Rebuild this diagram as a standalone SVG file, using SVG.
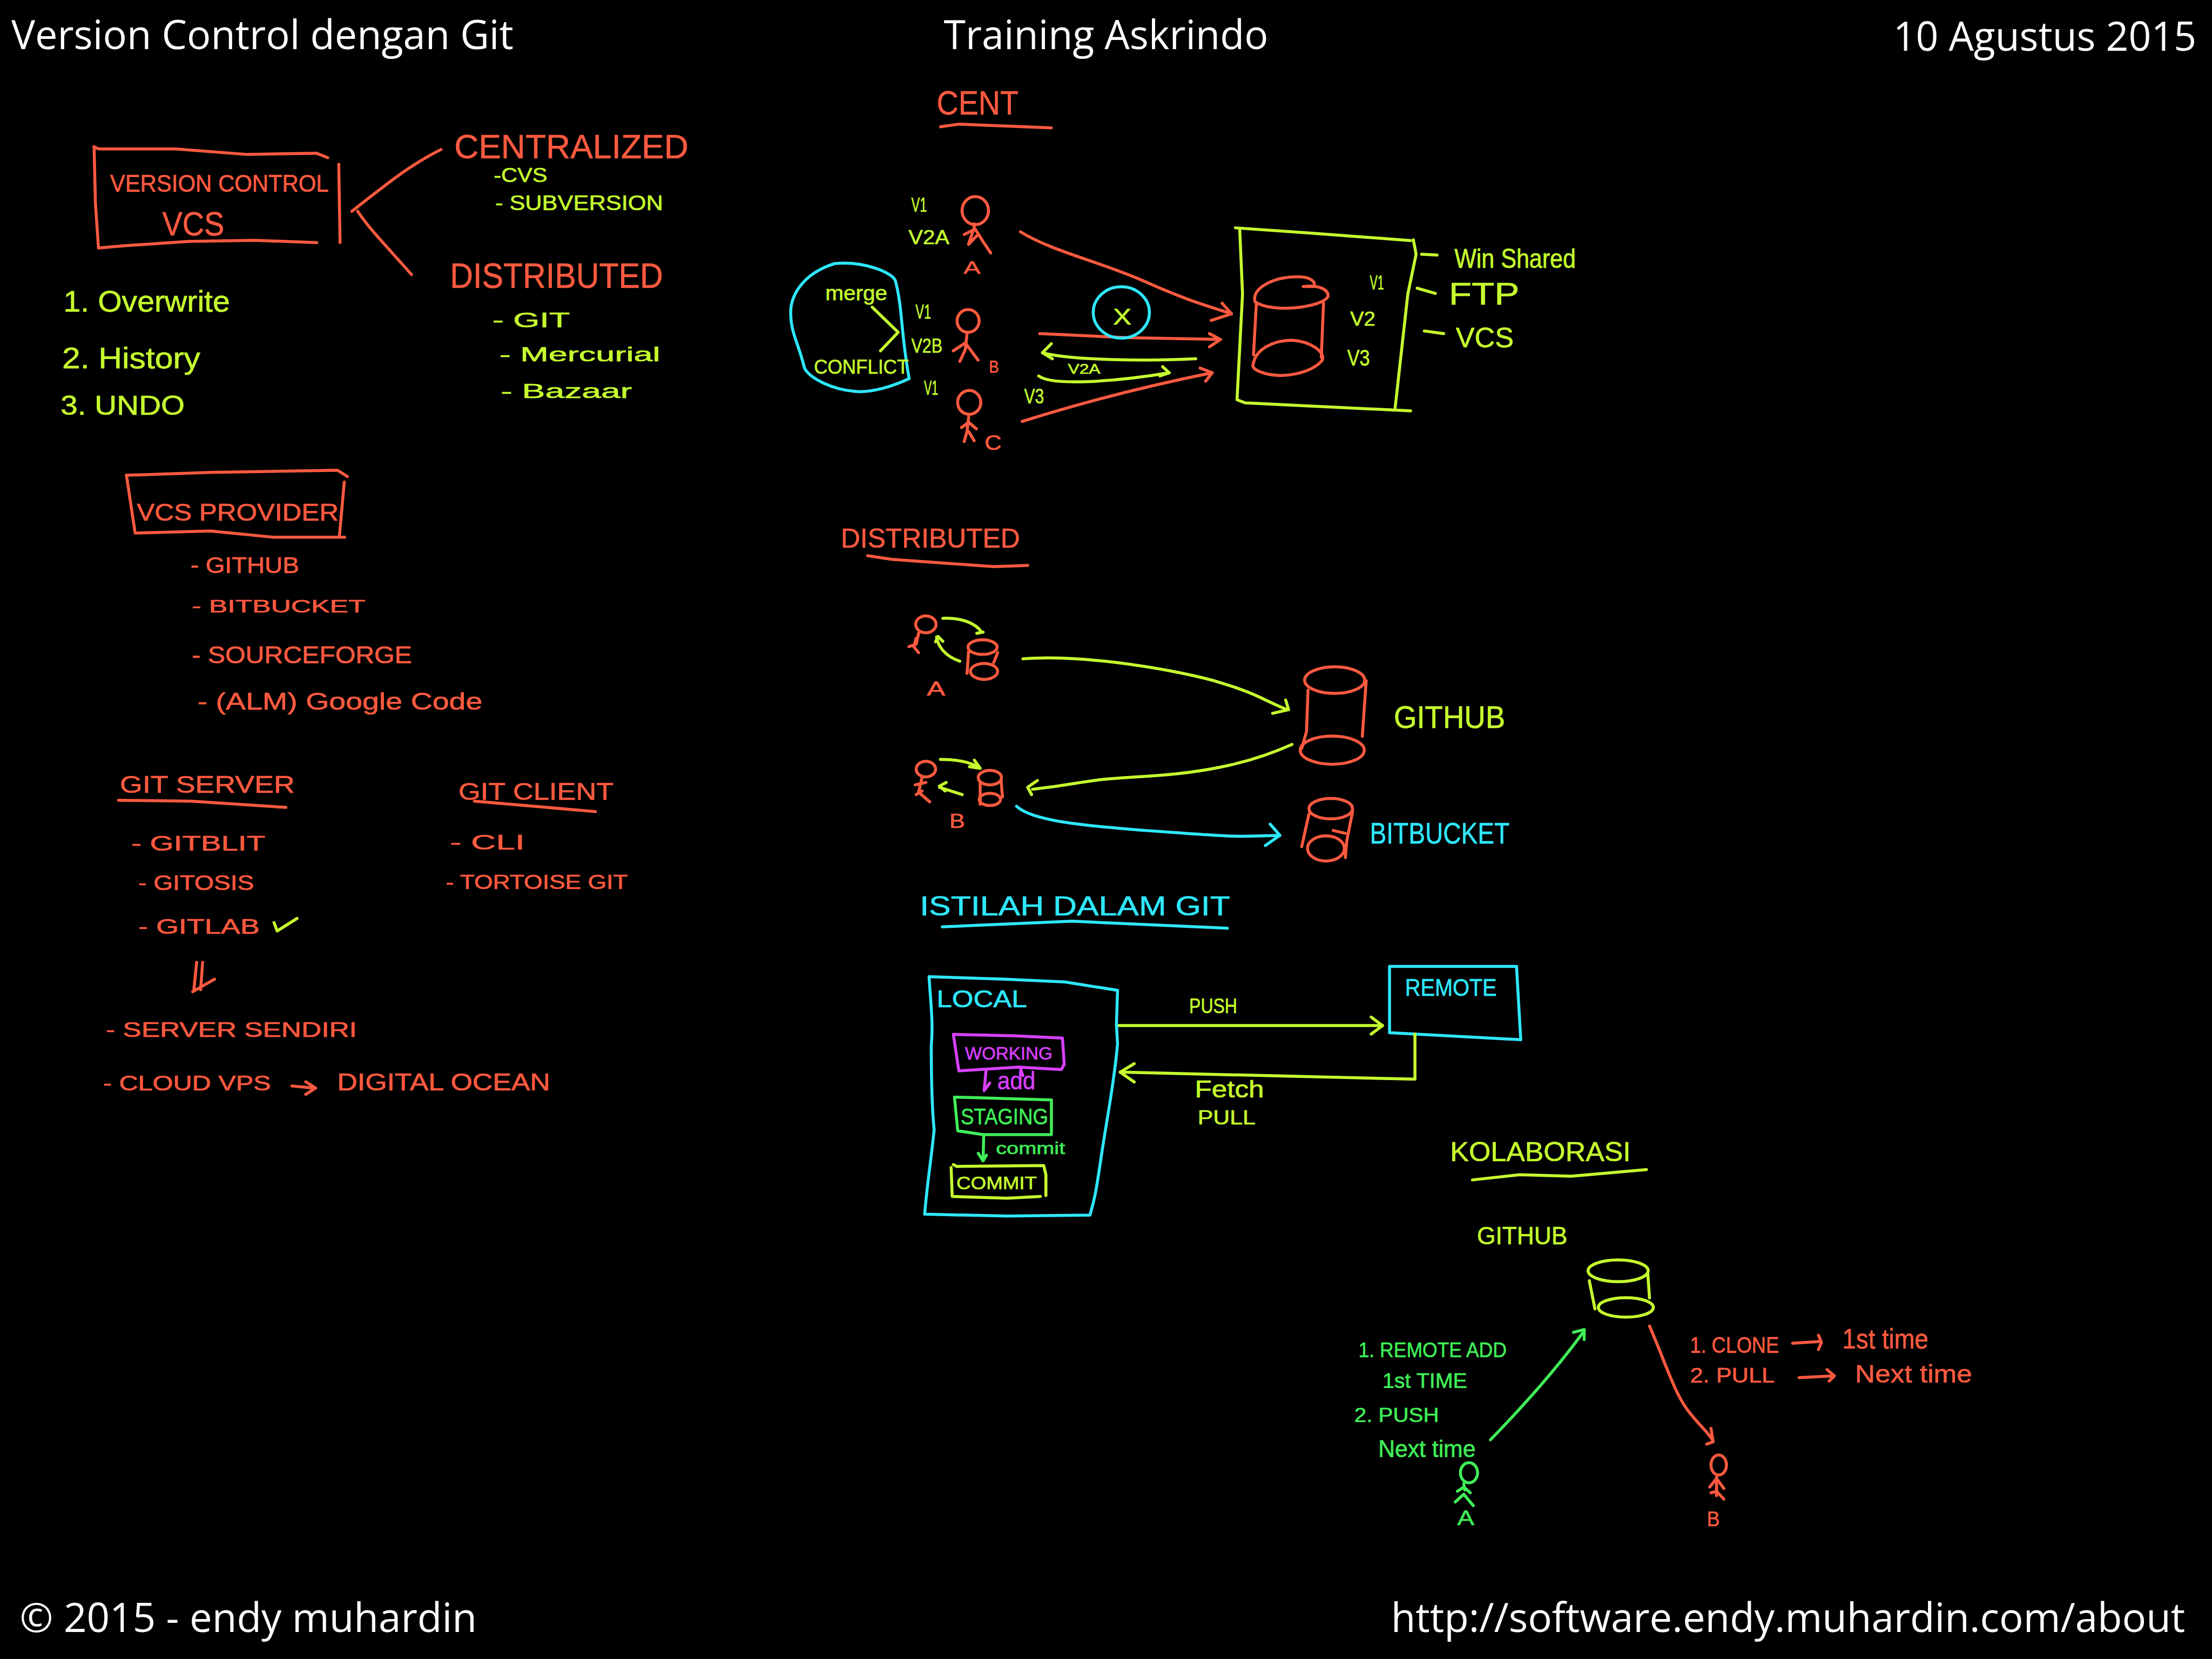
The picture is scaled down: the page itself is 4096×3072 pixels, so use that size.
<svg xmlns="http://www.w3.org/2000/svg" width="4096" height="3072" viewBox="0 0 4096 3072">
<style>
polyline,path,ellipse{fill:none;stroke-width:5.5;stroke-linecap:round;stroke-linejoin:round;vector-effect:non-scaling-stroke}
text{font-family:"Liberation Sans",Arial,sans-serif;stroke-width:.25}
.h{font-family:"Open Sans","DejaVu Sans",sans-serif;fill:#fff;font-size:28.5px;stroke:none}
.r{stroke:#ff5a40}.y{stroke:#c6ff2e}.c{stroke:#2ee8ff}.m{stroke:#d840ff}.g{stroke:#40ee58}
text.r{fill:#ff5a40}text.y{fill:#c6ff2e}text.c{fill:#2ee8ff}text.m{fill:#d840ff}text.g{fill:#40ee58}
</style>
<rect width="4096" height="3072" fill="#000"/>
<g transform="scale(2.61224)">
<g id="header">
<text class="h" x="8" y="35" textLength="356" lengthAdjust="spacingAndGlyphs">Version Control dengan Git</text>
<text class="h" x="669" y="35" textLength="230" lengthAdjust="spacingAndGlyphs">Training Askrindo</text>
<text class="h" x="1342" y="36" textLength="215" lengthAdjust="spacingAndGlyphs">10 Agustus 2015</text>
<text class="h" x="14" y="1157" textLength="324" lengthAdjust="spacingAndGlyphs">© 2015 - endy muhardin</text>
<text class="h" x="986" y="1157" textLength="563" lengthAdjust="spacingAndGlyphs">http://software.endy.muhardin.com/about</text>
</g>
<g id="vcs-shapes" transform="translate(24.5,73.5) scale(.3125,.15625)">
<polyline class="r" points="135,195 145,205 320,205 480,230 640,225 665,245"/>
<polyline class="r" points="135,195 138,450 145,655 200,645 350,625 500,620 640,630"/>
<polyline class="r" points="690,275 693,630"/>
<path class="r" d="M922,208 C860,270 820,330 720,488"/>
<path class="r" d="M733,488 C760,570 800,650 855,775"/>
</g>
<g id="vcs-text">
<text class="r" x="78" y="136" font-size="17" textLength="155" lengthAdjust="spacingAndGlyphs">VERSION CONTROL</text>
<text class="r" x="115" y="167" font-size="24" textLength="44" lengthAdjust="spacingAndGlyphs">VCS</text>
<text class="r" x="322" y="112" font-size="24" textLength="166" lengthAdjust="spacingAndGlyphs">CENTRALIZED</text>
<text class="y" x="350" y="129" font-size="14" textLength="38" lengthAdjust="spacingAndGlyphs">-CVS</text>
<text class="y" x="351" y="149" font-size="15" textLength="119" lengthAdjust="spacingAndGlyphs">- SUBVERSION</text>
<text class="r" x="319" y="204" font-size="25" textLength="151" lengthAdjust="spacingAndGlyphs">DISTRIBUTED</text>
<text class="y" x="349" y="232" font-size="15" textLength="55" lengthAdjust="spacingAndGlyphs">- GIT</text>
<text class="y" x="354" y="256" font-size="14" textLength="114" lengthAdjust="spacingAndGlyphs">- Mercurial</text>
<text class="y" x="355" y="282" font-size="14" textLength="93" lengthAdjust="spacingAndGlyphs">- Bazaar</text>
<text class="y" x="45" y="221" font-size="21" textLength="118" lengthAdjust="spacingAndGlyphs">1. Overwrite</text>
<text class="y" x="44" y="261" font-size="21" textLength="98" lengthAdjust="spacingAndGlyphs">2. History</text>
<text class="y" x="43" y="294" font-size="19" textLength="88" lengthAdjust="spacingAndGlyphs">3. UNDO</text>
</g>
<g id="provider-shapes" transform="translate(36.75,318.5) scale(.28125,.2969)">
<polyline class="r" points="188,62 400,55 720,50 745,65"/>
<polyline class="r" points="188,62 210,200 400,195 560,210 738,210"/>
<polyline class="r" points="737,78 725,205"/>
<polyline class="r" points="168,838 350,840 590,855"/>
<polyline class="r" points="1065,840 1370,865"/>
<polyline class="y" points="560,1130 568,1150 618,1120"/>
<polyline class="r" points="365,1225 358,1290"/>
<polyline class="r" points="380,1225 375,1290"/>
<polyline class="r" points="355,1295 410,1265"/>
<polyline class="r" points="605,1520 660,1525"/>
<polyline class="r" points="640,1510 665,1525 640,1540"/>
</g>
<g id="provider-text">
<text class="r" x="97" y="369" font-size="17" textLength="143" lengthAdjust="spacingAndGlyphs">VCS PROVIDER</text>
<text class="r" x="135" y="406" font-size="16" textLength="77" lengthAdjust="spacingAndGlyphs">- GITHUB</text>
<text class="r" x="136" y="434" font-size="13" textLength="123" lengthAdjust="spacingAndGlyphs">- BITBUCKET</text>
<text class="r" x="136" y="470" font-size="17" textLength="156" lengthAdjust="spacingAndGlyphs">- SOURCEFORGE</text>
<text class="r" x="140" y="503" font-size="17" textLength="202" lengthAdjust="spacingAndGlyphs">- (ALM) Google Code</text>
<text class="r" x="85" y="562" font-size="17" textLength="124" lengthAdjust="spacingAndGlyphs">GIT SERVER</text>
<text class="r" x="325" y="567" font-size="17" textLength="110" lengthAdjust="spacingAndGlyphs">GIT CLIENT</text>
<text class="r" x="93" y="603" font-size="15" textLength="95" lengthAdjust="spacingAndGlyphs">- GITBLIT</text>
<text class="r" x="98" y="631" font-size="15" textLength="82" lengthAdjust="spacingAndGlyphs">- GITOSIS</text>
<text class="r" x="98" y="662" font-size="15" textLength="86" lengthAdjust="spacingAndGlyphs">- GITLAB</text>
<text class="r" x="319" y="602" font-size="15" textLength="53" lengthAdjust="spacingAndGlyphs">- CLI</text>
<text class="r" x="316" y="630" font-size="14" textLength="129" lengthAdjust="spacingAndGlyphs">- TORTOISE GIT</text>
<text class="r" x="75" y="735" font-size="15" textLength="178" lengthAdjust="spacingAndGlyphs">- SERVER SENDIRI</text>
<text class="r" x="73" y="773" font-size="15" textLength="119" lengthAdjust="spacingAndGlyphs">- CLOUD VPS</text>
<text class="r" x="239" y="773" font-size="17" textLength="151" lengthAdjust="spacingAndGlyphs">DIGITAL OCEAN</text>
</g>
<g id="cent-shapes" transform="translate(539,49) scale(.3906,.1875)">
<polyline class="r" points="327,218 360,208 528,222"/>
<ellipse class="r" cx="390" cy="535" rx="24" ry="53"/>
<polyline class="r" points="388,585 388,600 378,660"/>
<polyline class="r" points="370,625 390,605 405,655 418,695"/>
<polyline class="r" points="378,662 395,625"/>
<path class="r" d="M472,615 C530,690 620,730 700,805 S820,900 855,925"/>
<polyline class="r" points="838,885 855,925 818,950"/>
<polyline class="y" points="862,600 1000,620 1180,648"/>
<polyline class="y" points="870,610 875,850 865,1250 880,1262 1180,1292"/>
<polyline class="y" points="1185,645 1190,700 1175,850 1152,1280"/>
<polyline class="y" points="1200,700 1228,703"/>
<polyline class="y" points="1192,828 1225,848"/>
<polyline class="y" points="1205,990 1240,1000"/>
<path class="r" d="M898,880 C890,830 930,785 975,785 C1000,785 1008,805 1005,822 L985,822 C1010,815 1032,830 1030,860 C1020,900 930,925 898,880"/>
<polyline class="r" points="900,890 895,1080"/>
<polyline class="r" points="1022,885 1018,1090"/>
<path class="r" d="M895,1110 C900,1060 930,1025 965,1025 C1000,1030 1025,1070 1020,1100 C1000,1150 950,1170 915,1150 C890,1135 893,1120 895,1110"/>
<path class="c" d="M135,735 C190,725 240,770 245,800 C258,900 255,1000 270,1170 C240,1200 200,1225 170,1218 C130,1210 90,1170 80,1130 C70,1040 55,1000 55,920 C55,850 80,770 135,735 Z"/>
<polyline class="y" points="203,900 250,995 218,1065"/>
<ellipse class="r" cx="377" cy="952" rx="20" ry="43"/>
<polyline class="r" points="375,1000 372,1060 362,1105"/>
<polyline class="r" points="350,1065 372,1035 395,1100"/>
<polyline class="r" points="507,1000 665,1015 835,1022"/>
<polyline class="r" points="815,1000 835,1022 815,1050"/>
<ellipse class="c" cx="655" cy="920" rx="51" ry="97"/>
<path class="y" d="M790,1095 C700,1105 560,1100 512,1072"/>
<polyline class="y" points="528,1038 512,1072 530,1095"/>
<path class="y" d="M505,1160 C530,1200 650,1180 742,1148"/>
<polyline class="y" points="730,1125 742,1148 725,1160"/>
<path class="r" d="M475,1332 C600,1250 720,1190 820,1148"/>
<polyline class="r" points="798,1130 820,1148 808,1180"/>
<ellipse class="r" cx="379" cy="1260" rx="21" ry="45"/>
<polyline class="r" points="378,1315 375,1370 370,1408"/>
<polyline class="r" points="365,1355 378,1335 392,1360"/>
<polyline class="r" points="378,1370 388,1405"/>
</g>
<g id="cent-text">
<text class="r" x="664" y="81" font-size="24" textLength="58" lengthAdjust="spacingAndGlyphs">CENT</text>
<text class="y" x="646" y="150" font-size="14" textLength="11" lengthAdjust="spacingAndGlyphs">V1</text>
<text class="y" x="644" y="173" font-size="14" textLength="29" lengthAdjust="spacingAndGlyphs">V2A</text>
<text class="r" x="683" y="194" font-size="13" textLength="12" lengthAdjust="spacingAndGlyphs">A</text>
<text class="y" x="585" y="213" font-size="15" textLength="44" lengthAdjust="spacingAndGlyphs">merge</text>
<text class="y" x="577" y="265" font-size="14" textLength="67" lengthAdjust="spacingAndGlyphs">CONFLICT</text>
<text class="y" x="649" y="226" font-size="14" textLength="11" lengthAdjust="spacingAndGlyphs">V1</text>
<text class="y" x="646" y="250" font-size="14" textLength="22" lengthAdjust="spacingAndGlyphs">V2B</text>
<text class="r" x="701" y="264" font-size="12" textLength="7" lengthAdjust="spacingAndGlyphs">B</text>
<text class="y" x="655" y="280" font-size="14" textLength="10" lengthAdjust="spacingAndGlyphs">V1</text>
<text class="r" x="698" y="319" font-size="15" textLength="12" lengthAdjust="spacingAndGlyphs">C</text>
<text class="y" x="789" y="230" font-size="16" textLength="13" lengthAdjust="spacingAndGlyphs">X</text>
<text class="y" x="757" y="265" font-size="10" textLength="23" lengthAdjust="spacingAndGlyphs">V2A</text>
<text class="y" x="726" y="286" font-size="15" textLength="14" lengthAdjust="spacingAndGlyphs">V3</text>
<text class="y" x="971" y="205" font-size="14" textLength="10" lengthAdjust="spacingAndGlyphs">V1</text>
<text class="y" x="957" y="231" font-size="14" textLength="18" lengthAdjust="spacingAndGlyphs">V2</text>
<text class="y" x="955" y="259" font-size="16" textLength="16" lengthAdjust="spacingAndGlyphs">V3</text>
<text class="y" x="1031" y="190" font-size="19" textLength="86" lengthAdjust="spacingAndGlyphs">Win Shared</text>
<text class="y" x="1027" y="216" font-size="22" textLength="50" lengthAdjust="spacingAndGlyphs">FTP</text>
<text class="y" x="1032" y="246" font-size="20" textLength="41" lengthAdjust="spacingAndGlyphs">VCS</text>
</g>
<g id="dist-shapes" transform="translate(563.5,355.25) scale(.34375,.1719)">
<polyline class="r" points="150,225 200,240 410,270 480,265"/>
<ellipse class="r" cx="270" cy="508" rx="21" ry="35"/>
<polyline class="r" points="255,545 250,590 235,600"/>
<polyline class="r" points="250,565 245,600 255,625"/>
<path class="y" d="M305,483 C350,480 375,510 385,540"/>
<polyline class="y" points="375,545 388,540"/>
<path class="y" d="M340,660 C310,640 295,600 292,560"/>
<polyline class="y" points="290,580 295,558 305,578"/>
<ellipse class="r" cx="387" cy="602" rx="30" ry="30"/>
<polyline class="r" points="358,620 355,710"/>
<polyline class="r" points="418,625 410,665"/>
<ellipse class="r" cx="390" cy="702" rx="28" ry="33"/>
<path class="y" d="M470,650 C600,630 800,700 880,750 S960,815 1015,860"/>
<polyline class="y" points="1012,820 1018,860 985,875"/>
<ellipse class="r" cx="1113" cy="738" rx="62" ry="55"/>
<polyline class="r" points="1058,780 1055,950 1045,1020"/>
<polyline class="r" points="1178,740 1170,970"/>
<ellipse class="r" cx="1108" cy="1027" rx="66" ry="58"/>
<path class="y" d="M1025,1003 C950,1070 860,1120 720,1135 S600,1165 490,1188"/>
<polyline class="y" points="500,1152 480,1180 488,1210"/>
<ellipse class="r" cx="270" cy="1105" rx="20" ry="32"/>
<polyline class="r" points="262,1140 255,1200 278,1240"/>
<polyline class="r" points="248,1170 270,1160"/>
<polyline class="r" points="250,1210 262,1195"/>
<path class="y" d="M300,1065 C340,1065 365,1080 380,1100"/>
<polyline class="y" points="370,1068 382,1102 360,1095"/>
<polyline class="y" points="345,1210 298,1180"/>
<polyline class="y" points="312,1160 298,1175 310,1195"/>
<ellipse class="r" cx="402" cy="1140" rx="24" ry="30"/>
<polyline class="r" points="382,1160 382,1250"/>
<polyline class="r" points="425,1150 428,1220"/>
<ellipse class="r" cx="402" cy="1230" rx="22" ry="25"/>
<path class="c" d="M457,1258 C490,1320 600,1340 750,1362 S900,1385 1000,1378"/>
<polyline class="c" points="980,1332 1000,1378 970,1420"/>
<ellipse class="r" cx="1105" cy="1268" rx="45" ry="42"/>
<polyline class="r" points="1060,1290 1045,1425"/>
<polyline class="r" points="1150,1280 1138,1400 1135,1470"/>
<ellipse class="r" cx="1095" cy="1432" rx="38" ry="52"/>
<polyline class="r" points="1110,1358 1135,1370"/>
</g>
<g id="dist-text">
<text class="r" x="596" y="388" font-size="19" textLength="127" lengthAdjust="spacingAndGlyphs">DISTRIBUTED</text>
<text class="r" x="657" y="493" font-size="14" textLength="13" lengthAdjust="spacingAndGlyphs">A</text>
<text class="r" x="673" y="587" font-size="14" textLength="11" lengthAdjust="spacingAndGlyphs">B</text>
<text class="y" x="988" y="516" font-size="22" textLength="79" lengthAdjust="spacingAndGlyphs">GITHUB</text>
<text class="c" x="971" y="598" font-size="21" textLength="99" lengthAdjust="spacingAndGlyphs">BITBUCKET</text>
</g>
<g id="istilah">
<text class="c" x="652" y="649" font-size="19" textLength="220" lengthAdjust="spacingAndGlyphs">ISTILAH  DALAM  GIT</text>
<polyline class="c" points="668,657 760,653 870,658"/>
<polyline class="y" points="792,727 980,727"/>
<polyline class="y" points="972,721 980,727 972,733"/>
<polyline class="c" points="985,685 1075,685 1078,737 985,732 985,685"/>
<polyline class="y" points="1003,733 1003,765 795,760"/>
<polyline class="y" points="804,754 794,760 804,767"/>
<text class="y" x="843" y="718" font-size="15" textLength="34" lengthAdjust="spacingAndGlyphs">PUSH</text>
<text class="c" x="996" y="706" font-size="17" textLength="65" lengthAdjust="spacingAndGlyphs">REMOTE</text>
<text class="y" x="847" y="778" font-size="17" textLength="49" lengthAdjust="spacingAndGlyphs">Fetch</text>
<text class="y" x="849" y="797" font-size="14" textLength="41" lengthAdjust="spacingAndGlyphs">PULL</text>
</g>
<g id="local-shapes" transform="translate(612.5,661.5) scale(.15625,.1328)">
<path class="c" d="M295,232 L630,245 910,260 1150,305 1145,490 1150,590 C1135,800 1100,1000 1075,1200 S1045,1420 1025,1505 L650,1510 275,1500 C285,1350 300,1250 318,1050 C305,900 305,700 305,600 C315,470 300,350 295,232 Z"/>
<polyline class="m" points="405,540 680,548 900,560 908,700 895,728 700,715 430,735 405,540"/>
<polyline class="g" points="410,875 850,890 850,1075 540,1075 425,1055 410,875"/>
<polyline class="y" points="405,1235 420,1245 815,1240 825,1290 825,1400"/>
<polyline class="y" points="395,1250 400,1405 650,1415 800,1405"/>
<polyline class="m" points="553,735 545,840 570,800"/>
<polyline class="m" points="708,715 720,760"/>
<polyline class="g" points="543,1075 540,1215"/>
<polyline class="g" points="518,1175 540,1215 555,1185"/>
</g>
<g id="local-text">
<text class="c" x="664" y="714" font-size="17" textLength="64" lengthAdjust="spacingAndGlyphs">LOCAL</text>
<text class="m" x="684" y="751" font-size="13" textLength="62" lengthAdjust="spacingAndGlyphs">WORKING</text>
<text class="m" x="707" y="772" font-size="18" textLength="27" lengthAdjust="spacingAndGlyphs">add</text>
<text class="g" x="681" y="797" font-size="16" textLength="62" lengthAdjust="spacingAndGlyphs">STAGING</text>
<text class="g" x="706" y="818" font-size="12" textLength="49" lengthAdjust="spacingAndGlyphs">commit</text>
<text class="y" x="678" y="843" font-size="13" textLength="57" lengthAdjust="spacingAndGlyphs">COMMIT</text>
</g>
<g id="kolaborasi-shapes" transform="translate(931,784) scale(.3047,.2031)">
<polyline class="y" points="370,258 480,240 600,245 775,222"/>
<ellipse class="y" cx="709" cy="575" rx="70" ry="38"/>
<polyline class="y" points="642,610 655,708"/>
<polyline class="y" points="778,585 782,670"/>
<ellipse class="y" cx="727" cy="703" rx="64" ry="34"/>
<path class="g" d="M412,1165 C480,1060 560,930 630,785"/>
<polyline class="g" points="605,790 630,780 630,815"/>
<path class="r" d="M782,768 C820,900 840,1000 870,1060 S920,1140 930,1170"/>
<polyline class="r" points="925,1125 930,1172 915,1180"/>
<polyline class="r" points="1115,828 1180,822"/>
<polyline class="r" points="1175,800 1182,825 1175,850"/>
<polyline class="r" points="1130,948 1210,942"/>
<polyline class="r" points="1195,920 1212,942 1200,960"/>
<ellipse class="g" cx="362" cy="1280" rx="20" ry="35"/>
<polyline class="g" points="350,1318 352,1340"/>
<polyline class="g" points="335,1345 350,1330 365,1350"/>
<polyline class="g" points="330,1382 350,1355 372,1395"/>
<ellipse class="r" cx="943" cy="1253" rx="18" ry="35"/>
<polyline class="r" points="938,1295 938,1360"/>
<polyline class="r" points="922,1330 938,1300 955,1335"/>
<polyline class="r" points="925,1350 938,1345 955,1372"/>
</g>
<g id="kolaborasi-text">
<text class="y" x="1028" y="823" font-size="19" textLength="128" lengthAdjust="spacingAndGlyphs">KOLABORASI</text>
<text class="y" x="1047" y="882" font-size="18" textLength="64" lengthAdjust="spacingAndGlyphs">GITHUB</text>
<text class="g" x="963" y="962" font-size="15" textLength="105" lengthAdjust="spacingAndGlyphs">1. REMOTE ADD</text>
<text class="g" x="980" y="984" font-size="15" textLength="60" lengthAdjust="spacingAndGlyphs">1st TIME</text>
<text class="g" x="960" y="1008" font-size="14" textLength="60" lengthAdjust="spacingAndGlyphs">2. PUSH</text>
<text class="g" x="977" y="1033" font-size="17" textLength="69" lengthAdjust="spacingAndGlyphs">Next time</text>
<text class="g" x="1033" y="1081" font-size="15" textLength="12" lengthAdjust="spacingAndGlyphs">A</text>
<text class="r" x="1210" y="1082" font-size="15" textLength="9" lengthAdjust="spacingAndGlyphs">B</text>
<text class="r" x="1198" y="959" font-size="16" textLength="63" lengthAdjust="spacingAndGlyphs">1. CLONE</text>
<text class="r" x="1306" y="956" font-size="20" textLength="61" lengthAdjust="spacingAndGlyphs">1st time</text>
<text class="r" x="1198" y="980" font-size="15" textLength="60" lengthAdjust="spacingAndGlyphs">2. PULL</text>
<text class="r" x="1315" y="980" font-size="18" textLength="83" lengthAdjust="spacingAndGlyphs">Next time</text>
</g>
</g>
</svg>
